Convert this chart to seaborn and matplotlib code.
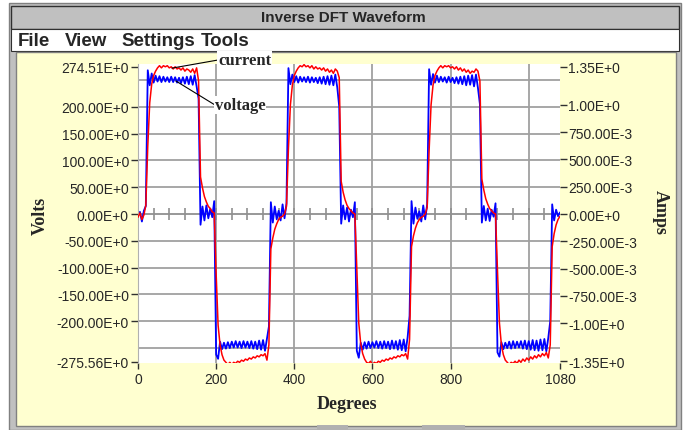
import numpy as np
import pandas as pd
import seaborn as sns
import matplotlib.pyplot as plt
from matplotlib.patches import Rectangle

W, H = 686, 431

# waveform samples, every 5 degrees (0..1080)
degrees = np.arange(0, 1081, 5)

volts = [
    -3, 4, -14, 6, 15, 268, 240, 262, 245, 258, 247, 257,
    246, 256, 247, 255, 246, 256, 246, 255, 245, 254, 244, 255,
    243, 256, 242, 257, 241, 259, 238, 215, -20, 14, -12, 16,
    -8, 10, -6, 24, -262, -270, -238, -252, -240, -251, -239, -250,
    -238, -249, -237, -249, -238, -250, -237, -249, -238, -250, -237, -251,
    -238, -252, -236, -253, -235, -255, -232, -210, 22, -16, 14, -10,
    6, -12, 18, -8, 20, 272, 242, 260, 246, 257, 245, 256,
    247, 255, 246, 256, 245, 255, 246, 254, 244, 255, 243, 256,
    242, 257, 241, 258, 240, 260, 236, 200, -18, 16, -10, 12,
    -14, 8, -6, 22, -255, -268, -240, -253, -239, -251, -238, -250,
    -239, -249, -237, -250, -238, -251, -237, -250, -238, -252, -236, -251,
    -237, -253, -235, -254, -234, -256, -230, -190, 24, -18, 12, -9,
    5, -14, 16, -10, 18, 270, 241, 261, 245, 258, 246, 256,
    247, 255, 245, 256, 246, 254, 244, 255, 243, 256, 242, 257,
    240, 258, 241, 259, 238, 260, 235, 205, -16, 15, -12, 10,
    -13, 8, -5, 20, -258, -266, -239, -252, -240, -250, -238, -251,
    -237, -250, -238, -249, -237, -251, -236, -252, -237, -253, -235, -254,
    -236, -255, -234, -254, -233, -256, -231, -200, 18, -12, 8, -4,
    3,
]

amps = [
    -0.03, 0.01, -0.05, -0.01, 0.08, 0.62, 1.02, 1.19, 1.27, 1.31, 1.34, 1.36,
    1.34, 1.36, 1.35, 1.36, 1.34, 1.35, 1.33, 1.35, 1.33, 1.34, 1.32, 1.34,
    1.31, 1.33, 1.32, 1.30, 1.33, 1.29, 1.34, 1.22, 0.34, 0.24, 0.16, 0.11,
    0.07, 0.05, 0.02, 0.01, -0.55, -1.02, -1.20, -1.29, -1.34, -1.36, -1.38, -1.36,
    -1.38, -1.36, -1.37, -1.35, -1.36, -1.34, -1.35, -1.33, -1.34, -1.32, -1.33, -1.31,
    -1.32, -1.30, -1.31, -1.29, -1.30, -1.28, -1.34, -1.20, -0.32, -0.22, -0.14, -0.09,
    -0.05, -0.03, -0.02, 0.00, 0.07, 0.60, 1.00, 1.18, 1.27, 1.31, 1.34, 1.36,
    1.35, 1.37, 1.35, 1.36, 1.34, 1.36, 1.33, 1.35, 1.33, 1.34, 1.32, 1.34,
    1.31, 1.33, 1.30, 1.32, 1.29, 1.33, 1.31, 1.25, 0.30, 0.20, 0.13, 0.08,
    0.05, 0.03, 0.01, 0.00, -0.50, -1.00, -1.19, -1.28, -1.33, -1.36, -1.37, -1.35,
    -1.38, -1.36, -1.37, -1.35, -1.36, -1.34, -1.35, -1.33, -1.34, -1.32, -1.33, -1.31,
    -1.32, -1.30, -1.31, -1.29, -1.30, -1.28, -1.33, -1.15, -0.30, -0.20, -0.13, -0.08,
    -0.05, -0.03, -0.02, 0.00, 0.06, 0.58, 1.00, 1.18, 1.27, 1.31, 1.34, 1.36,
    1.34, 1.36, 1.35, 1.36, 1.34, 1.35, 1.33, 1.35, 1.32, 1.34, 1.31, 1.33,
    1.30, 1.32, 1.29, 1.31, 1.30, 1.33, 1.31, 1.22, 0.32, 0.22, 0.14, 0.09,
    0.05, 0.03, 0.01, 0.00, -0.52, -1.00, -1.20, -1.29, -1.34, -1.36, -1.38, -1.36,
    -1.37, -1.35, -1.37, -1.34, -1.36, -1.33, -1.35, -1.32, -1.34, -1.31, -1.33, -1.30,
    -1.32, -1.29, -1.31, -1.28, -1.30, -1.27, -1.32, -1.20, -0.30, -0.18, -0.10, -0.05,
    -0.02,
]

volt_ticks = [274.51, 200, 150, 100, 50, 0, -50, -100, -150, -200, -275.56]
volt_labels = ['274.51E+0', '200.00E+0', '150.00E+0', '100.00E+0', '50.00E+0', '0.00E+0',
               '-50.00E+0', '-100.00E+0', '-150.00E+0', '-200.00E+0', '-275.56E+0']
amp_ticks = [1.35, 1.0, 0.75, 0.5, 0.25, 0, -0.25, -0.5, -0.75, -1.0, -1.35]
amp_labels = ['1.35E+0', '1.00E+0', '750.00E-3', '500.00E-3', '250.00E-3', '0.00E+0',
              '-250.00E-3', '-500.00E-3', '-750.00E-3', '-1.00E+0', '-1.35E+0']
deg_ticks = [0, 200, 400, 600, 800, 1080]
deg_labels = ['0', '200', '400', '600', '800', '1080']
grid_volts = [250, 200, 150, 100, 50, -50, -100, -150, -200, -250]
grid_deg = [200, 400, 600, 800, 1000]
zero_ticks = np.arange(40, 1080, 40)

df = pd.DataFrame({'Degrees': degrees, 'Volts': volts, 'Amps': amps})

sns.set_style('white')
plt.rcParams['font.family'] = ['Liberation Sans', 'DejaVu Sans']
serif = ['Liberation Serif', 'DejaVu Serif']

fig = plt.figure(figsize=(W / 100, H / 100), dpi=100)
fig.patch.set_facecolor('white')


def box(x0, y0, x1, y1, **kw):
    fig.patches.append(Rectangle((x0 / W, 1 - y1 / H), (x1 - x0) / W, (y1 - y0) / H,
                                 transform=fig.transFigure, zorder=-10, **kw))


def ftext(x, y, s, **kw):
    fig.text(x / W, 1 - y / H, s, **kw)


# window chrome
box(9, 4, 681, 431, facecolor='#c0c0c0', edgecolor='#808080', lw=1)
box(11, 7, 679, 30, facecolor='#c0c0c0', edgecolor='#303030', lw=1)
box(11, 30, 679, 52, facecolor='white', edgecolor='#303030', lw=0.8)
box(16, 53, 676, 427, facecolor='#ffffd0', edgecolor='#808080', lw=1)
box(317, 426, 348, 431, facecolor='#b0b0b0', lw=0)
box(422, 426, 465, 431, facecolor='#b0b0b0', lw=0)

ftext(343, 18.5, 'Inverse DFT Waveform', ha='center', va='center', fontsize=11, fontweight='bold')
for word, x in [('File', 18), ('View', 65), ('Settings', 121), ('Tools', 201)]:
    ftext(x, 41.5, word, ha='left', va='center', fontsize=13.5, fontweight='bold')

# plot area
ax = fig.add_axes([138 / W, 1 - 364 / H, 422 / W, 299 / H])
ax.set_facecolor('white')
vlim = (-277.8, 279.7)
k = 1.35 / 274.51

for v in grid_volts:
    ax.axhline(v, color='#a0a0a0', lw=1.3, zorder=0.5)
for d in grid_deg:
    ax.axvline(d, color='#a0a0a0', lw=1.3, zorder=0.5)
ax.axhline(0, color='#909090', lw=1.3, zorder=0.6)
ax.plot(zero_ticks, np.zeros(len(zero_ticks)), ls='none', marker='|', ms=8, mew=1.2,
        color='#909090', zorder=0.6)

sns.lineplot(data=df, x='Degrees', y='Volts', ax=ax, color='#0000ff', linewidth=1.3)
ax.set_xlim(0, 1080)
ax.set_ylim(*vlim)
ax.set_xlabel('')
ax.set_ylabel('')
ax.set_xticks(deg_ticks, deg_labels)
ax.set_yticks(volt_ticks, volt_labels)
ax.tick_params(axis='y', direction='out', length=5, width=1, color='#303030', pad=1.5,
               labelsize=10, left=True)
ax.tick_params(axis='x', direction='out', length=4, width=1, color='#303030', pad=2.5,
               labelsize=10, bottom=True)
for s in ['top', 'right', 'bottom']:
    ax.spines[s].set_visible(False)
ax.spines['left'].set_color('#b0b0b0')

ax2 = ax.twinx()
sns.lineplot(data=df, x='Degrees', y='Amps', ax=ax2, color='#ff0000', linewidth=1.1)
ax2.set_ylim(vlim[0] * k, vlim[1] * k)
ax2.set_xlim(0, 1080)
ax2.set_ylabel('')
ax2.set_yticks(amp_ticks, amp_labels)
ax2.tick_params(axis='y', direction='out', length=5, width=1, color='#303030', pad=1,
                labelsize=10, right=True)
for s in ax2.spines.values():
    s.set_visible(False)
ax2.grid(False)
ax.grid(False)

# axis titles
ftext(40, 216, 'Volts', rotation=90, ha='center', va='center', fontsize=13,
      fontweight='bold', family=serif)
ftext(660, 212, 'Amps', rotation=270, ha='center', va='center', fontsize=13,
      fontweight='bold', family=serif)
ftext(347, 405, 'Degrees', ha='center', va='center', fontsize=13,
      fontweight='bold', family=serif)

# callouts
for label, xy, txt in [('current', (87, 272), (218, H - 61)),
                       ('voltage', (97, 248), (215, H - 106))]:
    ax2.annotate(label, xy=xy, xycoords=ax.transData, xytext=txt, textcoords='figure pixels',
                 ha='left', va='center', fontsize=12, fontweight='bold', family=serif,
                 annotation_clip=False,
                 bbox=dict(boxstyle='square,pad=0.05', fc='white', ec='none'),
                 arrowprops=dict(arrowstyle='-', color='black', lw=0.8,
                                 shrinkA=0, shrinkB=0, relpos=(0, 0.5)))

fig.savefig('out.png', dpi=100)
